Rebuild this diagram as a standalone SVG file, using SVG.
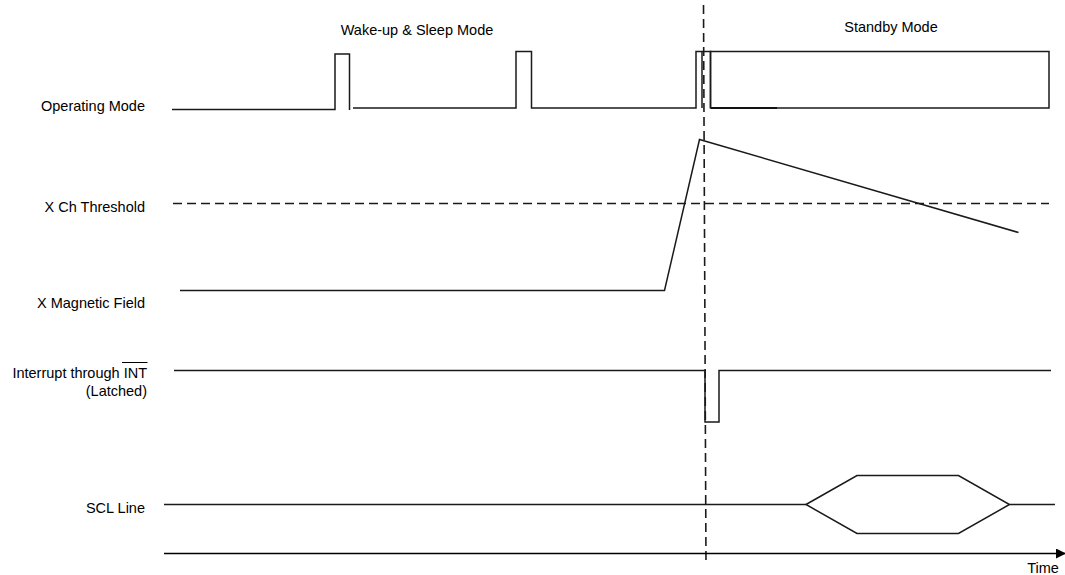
<svg xmlns="http://www.w3.org/2000/svg" width="1065" height="575" viewBox="0 0 1065 575">
<defs>
<style>
.lbl{font-family:"Liberation Sans",Arial,sans-serif;font-size:14.5px;fill:#000;}
.r{text-anchor:end;}
.c{text-anchor:middle;}
.w{fill:none;stroke:#1a1a1a;stroke-width:1.5;stroke-linejoin:miter;}
.d{fill:none;stroke:#1a1a1a;stroke-width:1.6;stroke-dasharray:9,5;}
</style>
<marker id="arr" markerWidth="10" markerHeight="10" refX="9" refY="5" orient="auto" markerUnits="userSpaceOnUse">
<path d="M0,0 L10,5 L0,10 Z" fill="#000"/>
</marker>
</defs>
<rect width="1065" height="575" fill="#fff"/>

<g id="labels">
<text class="lbl c" x="417" y="35">Wake-up &amp; Sleep Mode</text>
<text class="lbl c" x="891" y="32">Standby Mode</text>
<text class="lbl r" x="145" y="111">Operating Mode</text>
<text class="lbl r" x="145" y="212">X Ch Threshold</text>
<text class="lbl r" x="145" y="308">X Magnetic Field</text>
<text class="lbl r" x="147" y="378">Interrupt through INT</text>
<line x1="122" y1="362.5" x2="147.5" y2="362.5" stroke="#000" stroke-width="1"/>
<text class="lbl r" x="147" y="396">(Latched)</text>
<text class="lbl r" x="145" y="513">SCL Line</text>
<text class="lbl c" x="1043" y="573">Time</text>
</g>

<g id="operating-mode">
<polyline class="w" points="172,109.5 335,109.5 335,54 349.5,54 349.5,110"/>
<polyline class="w" points="353,108 516,108 516,51.5 531.5,51.5 531.5,108 696,108 696,51.5 710.5,51.5 710.5,108"/>
<line class="w" x1="702" y1="51.5" x2="702" y2="108"/>
<rect class="w" x="710.5" y="51.5" width="338.5" height="56.5"/>
<line x1="711" y1="108" x2="777" y2="108" stroke="#111" stroke-width="2"/>
</g>

<g id="threshold">
<line class="d" x1="173" y1="203.5" x2="1049" y2="203.5"/>
</g>

<g id="magnetic-field">
<polyline class="w" points="180,290.5 664.5,290.5 699.5,139.5 1018.5,232.5"/>
</g>

<g id="interrupt">
<polyline class="w" points="174,370.5 705,370.5 705,422 719,422 719,370.5 1051,370.5"/>
</g>

<g id="scl">
<polyline class="w" points="164,504.5 806,504.5"/>
<polygon class="w" points="806,504.5 857,475.5 958.5,475.5 1009.5,504.5 958.5,533.5 857,533.5"/>
<polyline class="w" points="1009.5,504.5 1055,504.5"/>
</g>

<g id="connectors">
<line class="d" x1="703.5" y1="5" x2="706" y2="565" stroke-dasharray="11,6"/>
<line x1="164" y1="553.5" x2="1065" y2="553.5" stroke="#000" stroke-width="1.5" marker-end="url(#arr)"/>
</g>
</svg>
